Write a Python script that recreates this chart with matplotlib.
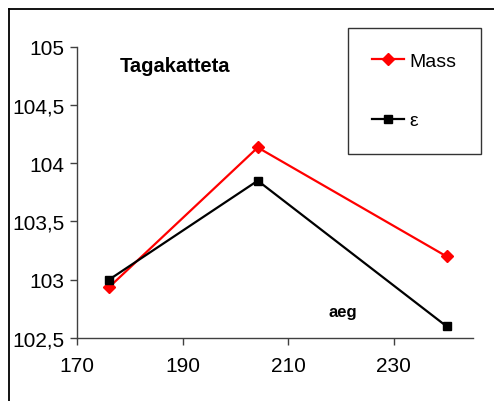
import matplotlib
matplotlib.use("Agg")
import matplotlib.pyplot as plt
from matplotlib.lines import Line2D
from matplotlib.ticker import FuncFormatter

plt.rcParams["font.family"] = ["Liberation Sans", "DejaVu Sans"]

# measurement points
aeg = [176, 204.2, 240]
mass = [102.935, 104.135, 103.2]
eps = [103.0, 103.85, 102.6]

x_ticks = [170, 190, 210, 230]
y_ticks = [102.5, 103, 103.5, 104, 104.5, 105]

W, H = 494, 402
fig = plt.figure(figsize=(W / 100, H / 100), dpi=100)

# outer chart frame (only left and top edges fall inside the image)
fig.add_artist(Line2D([9 / W, 9 / W], [0, 1 - 10 / H], color="black", lw=1.3,
                      transform=fig.transFigure))
fig.add_artist(Line2D([9 / W, 1], [1 - 10 / H, 1 - 10 / H], color="black", lw=1.3,
                      transform=fig.transFigure))

ax = fig.add_axes([77.3 / W, 1 - 339 / H, (473 - 77.3) / W, (339 - 47.7) / H])

ax.plot(aeg, mass, color="#ff0000", lw=1.6, marker="D", ms=6.5, label="Mass")
ax.plot(aeg, eps, color="black", lw=1.6, marker="s", ms=6, label="ε")

ax.set_xlim(170, 245)
ax.set_ylim(102.5, 105)
ax.set_xticks(x_ticks)
ax.set_yticks(y_ticks)
ax.yaxis.set_major_formatter(FuncFormatter(lambda v, p: f"{v:g}".replace(".", ",")))

for s in ["top", "right"]:
    ax.spines[s].set_visible(False)
for s in ["left", "bottom"]:
    ax.spines[s].set_color("#404040")
    ax.spines[s].set_linewidth(1.0)
ax.tick_params(direction="out", length=5, width=1.0, color="#404040",
               labelsize=15, pad=4)
ax.tick_params(axis="x", pad=8)

ax.text(120 / W, 1 - 66 / H, "Tagakatteta", transform=fig.transFigure,
        fontsize=14.5, fontweight="bold", va="center", ha="left")
ax.text(328 / W, 1 - 313 / H, "aeg", transform=fig.transFigure,
        fontsize=12, fontweight="bold", va="center", ha="left")

leg = ax.legend(loc="upper left", bbox_to_anchor=(348 / W, 1 - 29 / H),
                bbox_transform=fig.transFigure, fontsize=14, frameon=True,
                fancybox=False, edgecolor="black", borderpad=1.25,
                labelspacing=2.15, handlelength=1.65, handletextpad=0.25,
                borderaxespad=0)
leg.get_frame().set_linewidth(1.0)

fig.savefig("out.png", dpi=100)
